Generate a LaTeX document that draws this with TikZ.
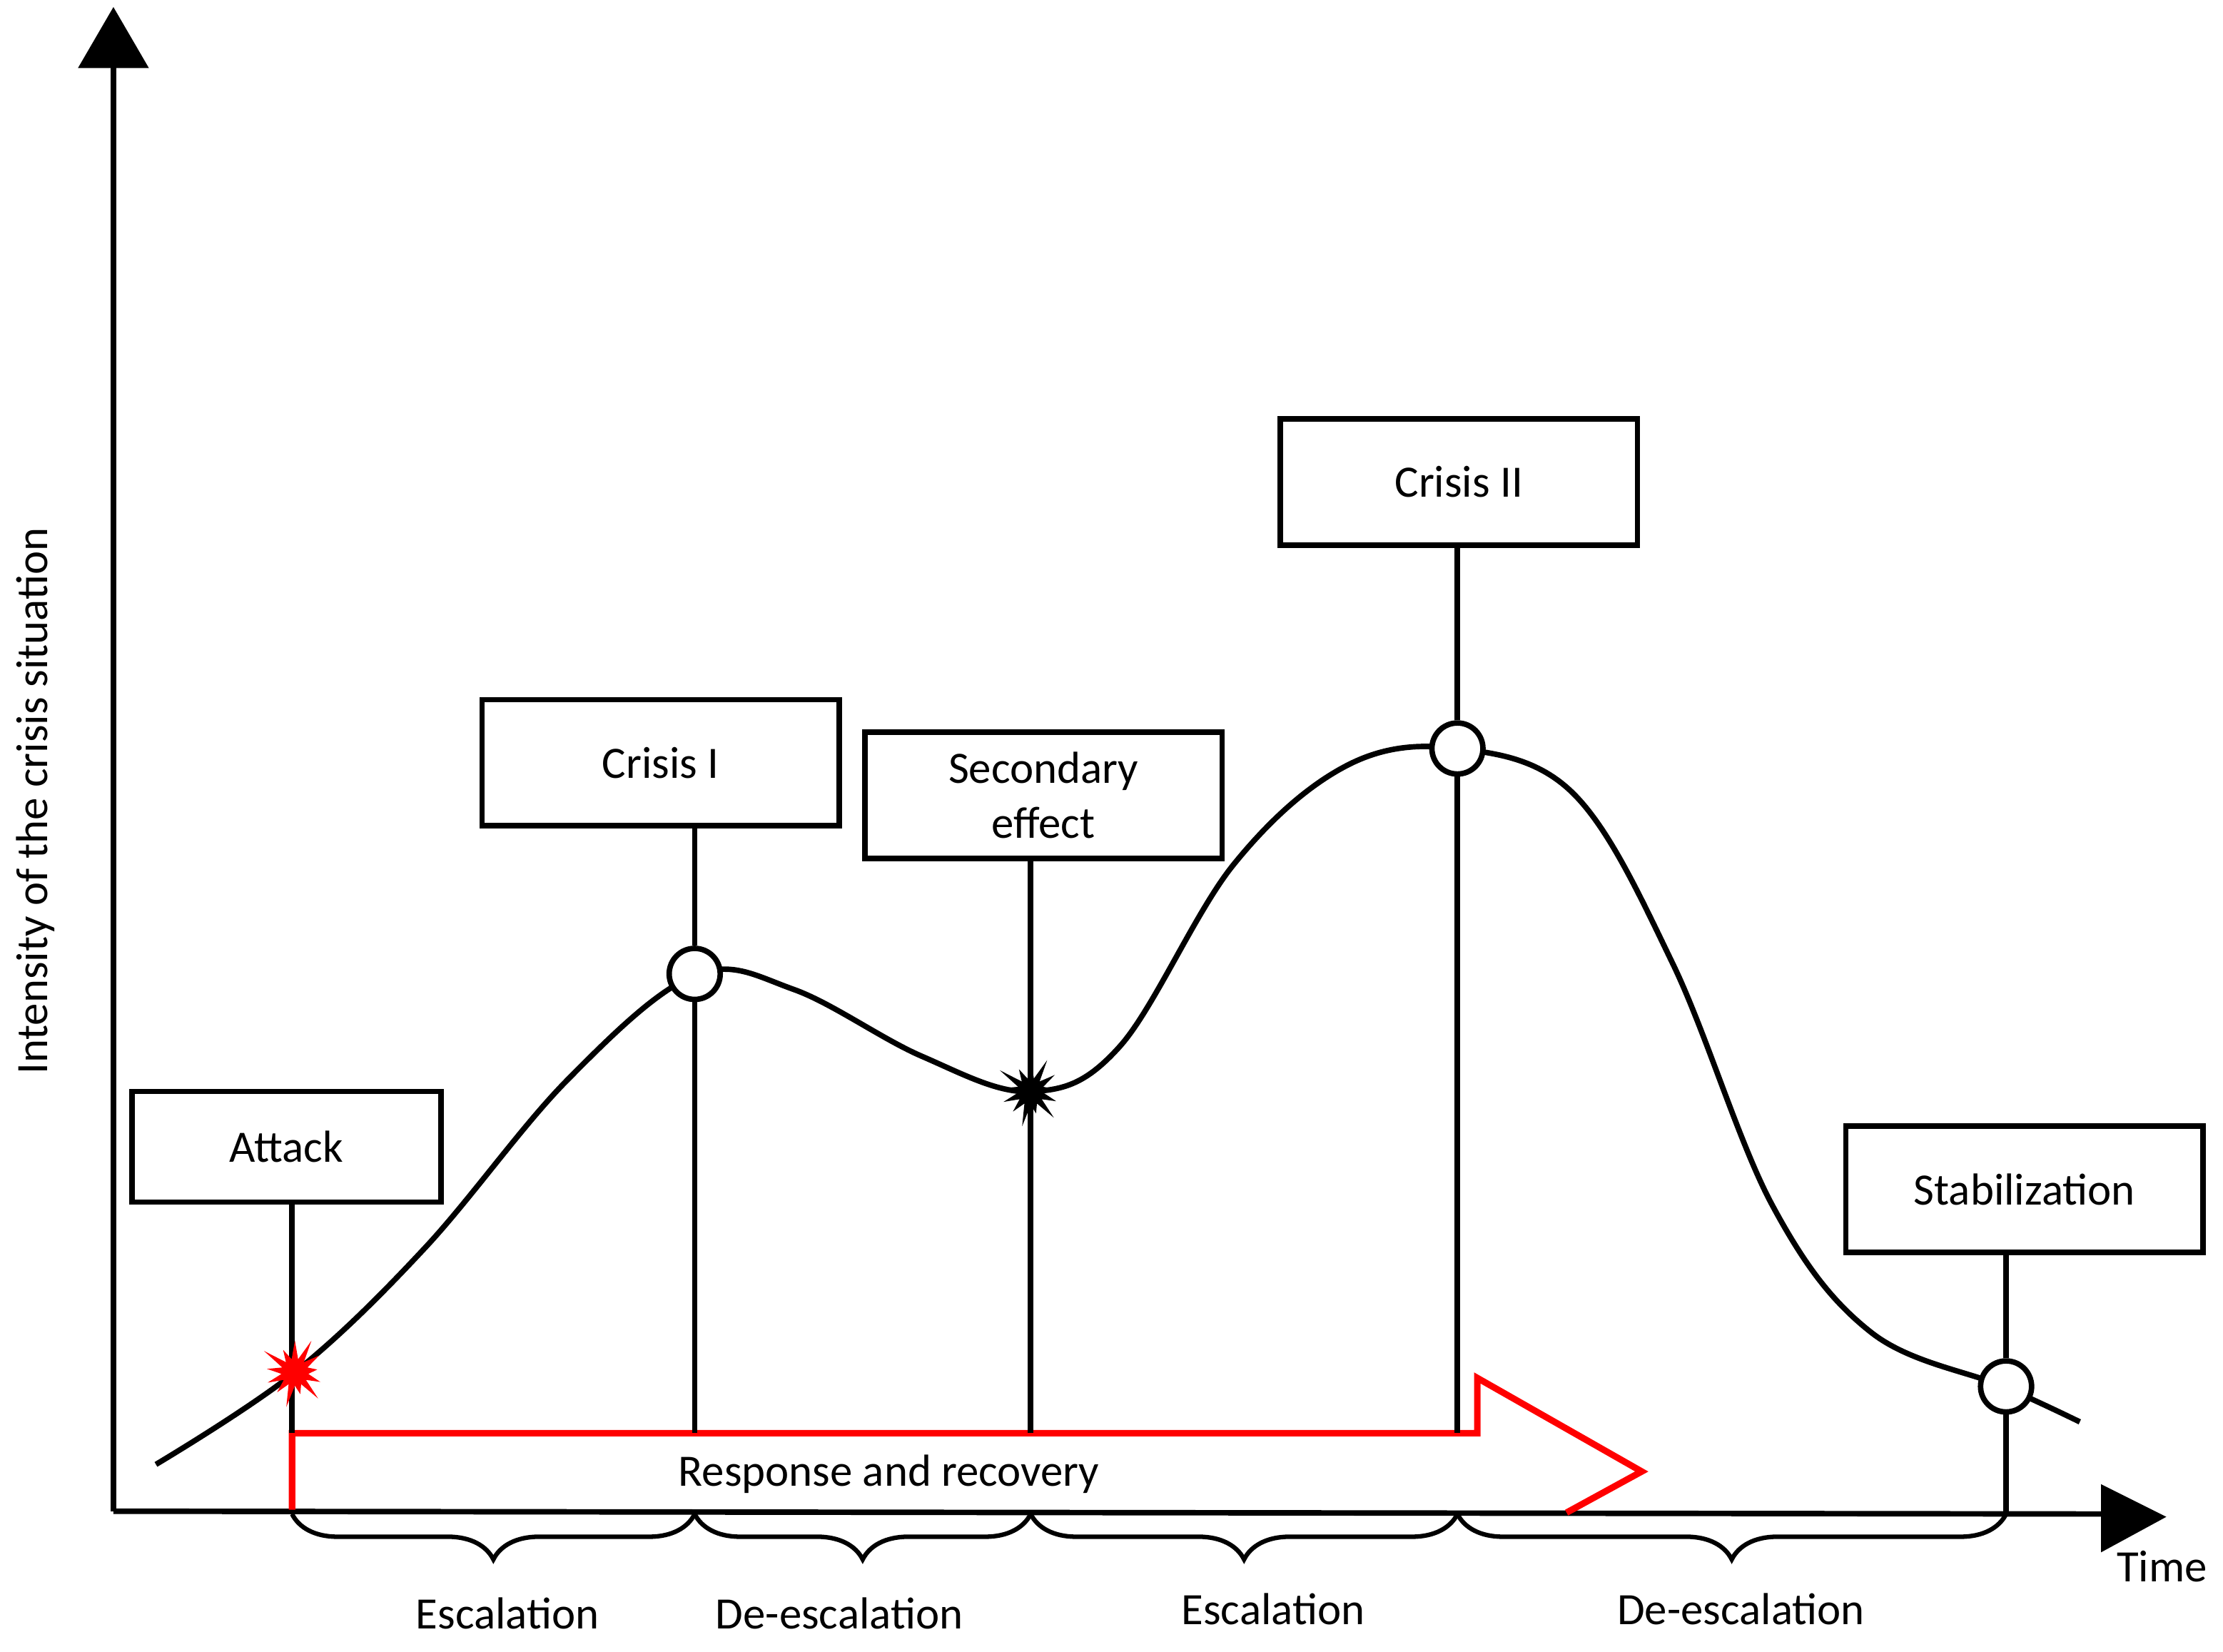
\documentclass[tikz,border=0pt]{standalone}
\usepackage{fontspec}
\setmainfont{Carlito}
\usetikzlibrary{shapes.symbols,decorations.pathreplacing}
\begin{document}
\begin{tikzpicture}[x=0.01cm,y=-0.01cm,line width=1.1pt,
  box/.style={draw,minimum width=252*0.01cm,minimum height=89*0.01cm,font=\fontsize{9}{11}\selectfont,align=center,inner sep=0pt},
  pt/.style={circle,draw,fill=white,minimum size=36*0.01cm,inner sep=0pt},
  burst/.style={starburst,starburst points=13,starburst point height=0.18cm,minimum size=0.55cm,inner sep=0pt,line width=0pt},
  lbl/.style={font=\fontsize{9}{11}\selectfont},
  br/.style={decorate,decoration={brace,mirror,amplitude=0.32cm}}]
\useasboundingbox (0,0) rectangle (1568,1165);
% axes
\coordinate (O) at (80,1066);
\coordinate (Ytop) at (80,40);
\coordinate (Xend) at (1490,1068);
\draw (O) -- (Ytop);
\fill (80,5) -- (105,48) -- (55,48) -- cycle;
\draw (O) -- (Xend);
\fill (1528,1070) -- (1482,1047) -- (1482,1095) -- cycle;
\node[lbl,rotate=90] (ylab) at (25,565) {Intensity of the crisis situation};
\node[lbl] (time) at (1525,1105) {Time};
% curve
\draw plot[smooth,tension=0.6] coordinates {(110,1033) (208,968) (300,880) (400,762) (490,688) (560,698) (650,745) (727,770) (790,738) (870,610) (950,540) (1028,528) (1110,560) (1180,680) (1250,850) (1320,940) (1413,978) (1467,1003)};
% red arrow
\draw[red,line width=1.3pt,line join=miter] (206,1065) -- (206,1011) -- (1042,1011) -- (1042,972) -- (1158,1038) -- (1105,1067);
\node[lbl] (resp) at (627,1040) {Response and recovery};
% boxes
\node[box,minimum width=218*0.01cm,minimum height=78*0.01cm] (attack) at (202,809) {Attack};
\node[box] (c1) at (466,538) {Crisis I};
\node[box] (sec) at (736,561) {Secondary\\effect};
\node[box] (c2) at (1029,340) {Crisis II};
\node[box] (stab) at (1428,839) {Stabilization};
% base coordinates
\coordinate (a0) at (206,1011);
\coordinate (b1) at (490,1011);
\coordinate (b2) at (727,1011);
\coordinate (b3) at (1028,1011);
\coordinate (b4) at (1415,1068);
% markers
\node[pt] (p1) at (490,687) {};
\node[pt] (p2) at (1028,528) {};
\node[pt] (p3) at (1415,978) {};
\draw (attack.south -| a0) -- (a0);
\draw (c1.south -| p1) -- (p1) -- (b1);
\draw (sec.south -| b2) -- (b2);
\draw (c2.south -| p2) -- (p2) -- (b3);
\draw (stab.south -| p3) -- (p3) -- (b4);
\node[burst,fill=red] (s1) at (208,968) {};
\node[burst,fill=black] (s2) at (727,770) {};
% braces
\coordinate (q0) at (206,1068);
\coordinate (q1) at (490,1068);
\coordinate (q2) at (727,1068);
\coordinate (q3) at (1028,1068);
\draw[br,line width=0.9pt] (q0) -- (q1);
\draw[br,line width=0.9pt] (q1) -- (q2);
\draw[br,line width=0.9pt] (q2) -- (q3);
\draw[br,line width=0.9pt] (q3) -- (b4);
\node[lbl] (e1) at (358,1138) {Escalation};
\node[lbl] (d1) at (592,1138) {De-escalation};
\node[lbl] (e2) at (898,1135) {Escalation};
\node[lbl] (d2) at (1228,1135) {De-escalation};
\end{tikzpicture}
\end{document}
